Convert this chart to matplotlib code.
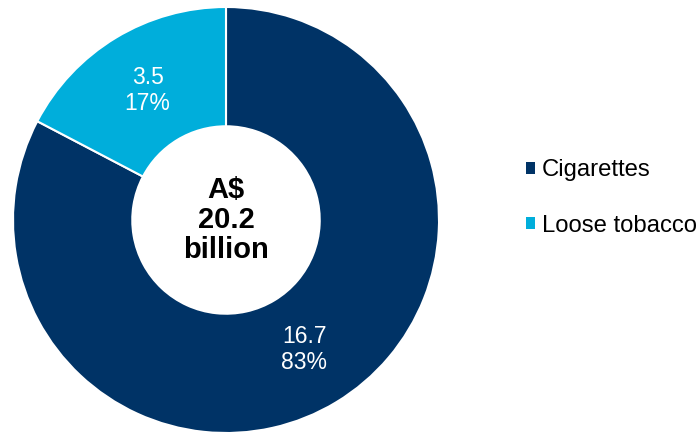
import matplotlib
matplotlib.use('Agg')
import matplotlib.pyplot as plt
from matplotlib.patches import Patch
import numpy as np

plt.rcParams['font.family'] = ['Liberation Sans', 'DejaVu Sans']

# market value by product, A$ billion
categories = ['Cigarettes', 'Loose tobacco']
values = [16.7, 3.5]
colors = ['#003366', '#00AEDB']
total_text = 'A$\n20.2\nbillion'

total = sum(values)

fig = plt.figure(figsize=(7, 4.32), dpi=100)
# square axes sized so the ring fills the left side
ax = fig.add_axes([13 / 700, -1 / 432, 426 / 700, 426 / 432])

wedges, _ = ax.pie(values, colors=colors, startangle=90, counterclock=False,
                   radius=1, wedgeprops=dict(width=0.56, edgecolor='white', linewidth=1.5))
ax.set_xlim(-1, 1)
ax.set_ylim(-1, 1)
ax.set_aspect('equal')
ax.axis('off')

# value and share label inside each segment
for w, v in zip(wedges, values):
    ang = np.deg2rad((w.theta1 + w.theta2) / 2)
    r = 0.71
    ax.text(r * np.cos(ang), r * np.sin(ang), '%.1f\n%d%%' % (v, round(v / total * 100)),
            ha='center', va='center', color='white', fontsize=16.5, linespacing=1.2)

ax.text(0, 0, total_text, ha='center', va='center', fontsize=21, fontweight='bold',
        linespacing=1.08)

handles = [Patch(facecolor=c, label=l) for c, l in zip(colors, categories)]
fig.legend(handles=handles, loc='center left', bbox_to_anchor=(526 / 700, 1 - 198 / 432),
           frameon=False, fontsize=17.2, handlelength=0.38, handleheight=0.38,
           handletextpad=0.28, labelspacing=1.4, borderpad=0, borderaxespad=0)

fig.savefig('out.png', dpi=100)
